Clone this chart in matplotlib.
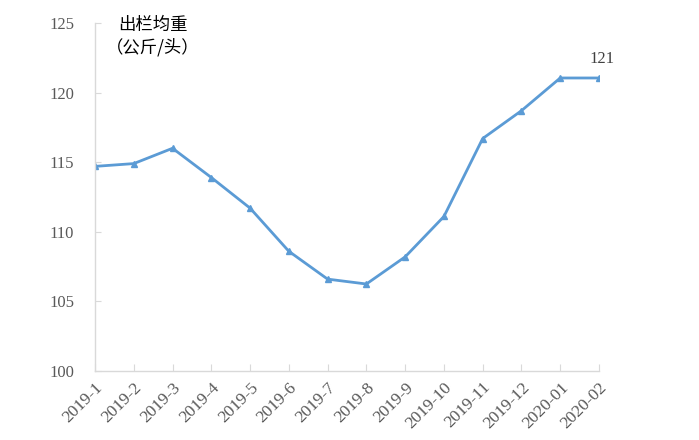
import matplotlib as mpl
mpl.use('Agg')
import matplotlib.pyplot as plt

months = ['2019-1', '2019-2', '2019-3', '2019-4', '2019-5', '2019-6', '2019-7',
          '2019-8', '2019-9', '2019-10', '2019-11', '2019-12', '2020-01', '2020-02']
weight = [114.7, 114.9, 116.0, 113.9, 111.7, 108.6, 106.6,
          106.25, 108.2, 111.1, 116.7, 118.7, 121.05, 121.05]

plt.rcParams['font.family'] = ['Liberation Serif', 'Noto Sans CJK SC', 'DejaVu Sans']

fig = plt.figure(figsize=(6.99, 4.4), dpi=100)
ax = fig.add_axes([95/699, 1-371/440, 504/699, 348/440])

x = list(range(len(months)))
ax.plot(x, weight, color='#5B9BD5', linewidth=2, marker='^', markersize=4)

ax.set_xlim(0, len(months)-1)
ax.set_ylim(100, 125)
ax.set_yticks([100, 105, 110, 115, 120, 125])
ax.set_xticks(x)
ax.set_xticklabels(months, rotation=45, ha='right', rotation_mode='anchor')

for s in ['top', 'right']:
    ax.spines[s].set_visible(False)
for s in ['left', 'bottom']:
    ax.spines[s].set_color('#D9D9D9')
    ax.spines[s].set_linewidth(1)

ax.tick_params(axis='x', direction='in', length=5, color='#D9D9D9', labelsize=12.5,
               labelcolor='#595959', pad=6)
ax.tick_params(axis='y', direction='in', length=4, color='#D9D9D9', labelsize=12,
               labelcolor='#595959', pad=15)

ax.text(0.115, 1.02, '出栏均重\n（公斤/头）', transform=ax.transAxes, ha='center', va='top',
        fontsize=12.5, family=['Noto Sans CJK SC', 'DejaVu Sans'], linespacing=1.25)

ax.annotate('121', (x[-1], weight[-1]), xytext=(2, 8), textcoords='offset points',
            ha='center', va='bottom', fontsize=12, color='#404040')

fig.savefig('out.png', dpi=100)
